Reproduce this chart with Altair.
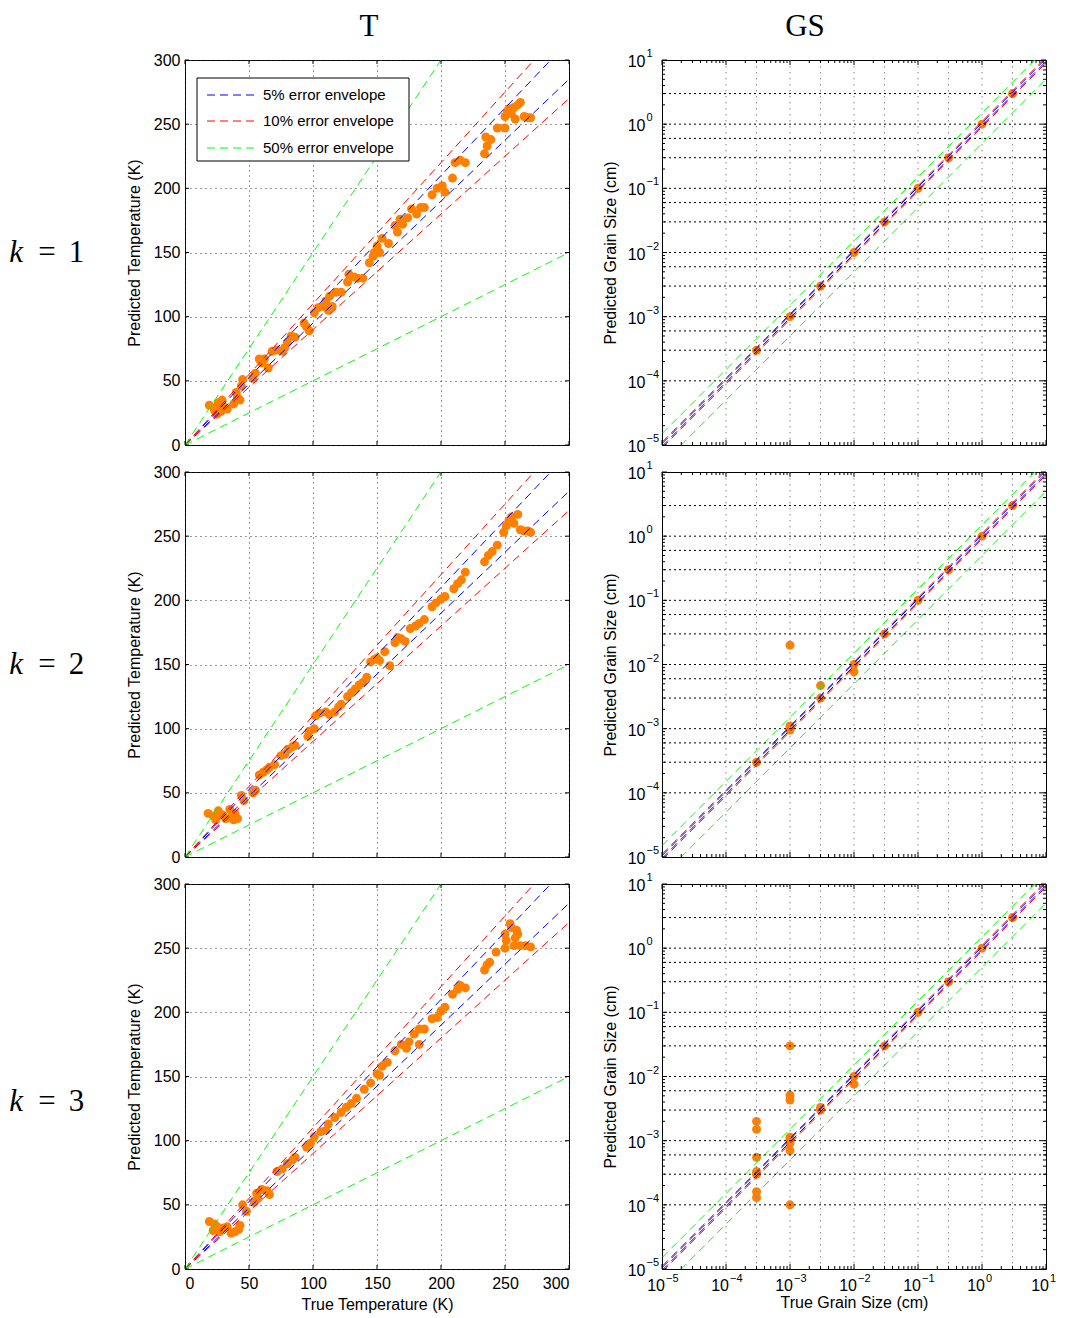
import altair as alt
import pandas as pd

# ---------------- data ----------------
# k = 1, temperature
t1_true = [19, 24, 26, 28, 25, 23, 30, 33, 29, 38, 40, 43, 41, 45, 44, 53, 55, 58, 60, 65,
           62, 68, 72, 76, 78, 80, 83, 86, 93, 97, 95, 101, 104, 108, 110, 113, 115, 112, 118, 122,
           127, 128, 132, 135, 139, 144, 148, 150, 147, 152, 154, 159, 164, 166, 168, 170, 174, 177, 181, 184,
           187, 193, 197, 201, 203, 209, 211, 215, 219, 234, 236, 235, 239, 244, 250, 250, 253, 255, 257, 260,
           262, 265, 268, 270, 258, 252]
t1_pred = [31, 29, 33, 26, 24, 27, 30, 28, 35, 32, 41, 35, 37, 51, 46, 52, 56, 67, 64, 60,
           67, 73, 74, 73, 76, 80, 85, 84, 95, 89, 92, 103, 107, 108, 112, 116, 108, 105, 119, 119,
           127, 133, 131, 130, 130, 142, 150, 155, 147, 150, 161, 157, 171, 166, 176, 172, 177, 184, 180, 185,
           185, 195, 200, 202, 197, 208, 220, 222, 220, 227, 233, 240, 238, 247, 247, 256, 262, 258, 263, 265,
           267, 256, 255, 255, 254, 260]

# k = 2, temperature
t2_true = [18, 22, 24, 26, 29, 32, 35, 37, 39, 41, 38, 44, 46, 53, 55, 58, 61, 64, 66, 70,
           75, 78, 81, 84, 86, 96, 97, 101, 102, 105, 110, 113, 117, 120, 122, 127, 130, 133, 136, 139,
           142, 145, 148, 150, 152, 156, 160, 164, 166, 169, 172, 176, 180, 183, 187, 193, 196, 200, 203, 210,
           213, 216, 219, 234, 237, 240, 244, 249, 251, 253, 255, 257, 260, 262, 265, 268, 270]
t2_pred = [34, 32, 29, 36, 33, 30, 37, 32, 34, 30, 29, 48, 44, 50, 52, 64, 66, 68, 70, 72,
           79, 80, 84, 86, 87, 94, 98, 100, 110, 112, 113, 111, 113, 117, 119, 125, 128, 131, 134, 136,
           140, 152, 154, 155, 153, 160, 149, 167, 171, 170, 168, 178, 180, 182, 185, 195, 198, 201, 203, 209,
           213, 216, 222, 230, 235, 238, 243, 253, 258, 262, 265, 260, 267, 255, 254, 254, 253]

# k = 3, temperature
t3_true = [19, 23, 25, 22, 27, 30, 33, 36, 39, 42, 43, 45, 48, 54, 57, 56, 60, 64, 66, 72,
           76, 80, 84, 86, 95, 98, 101, 106, 110, 112, 117, 122, 126, 130, 134, 140, 145, 150, 152, 154,
           158, 164, 169, 173, 175, 183, 179, 183, 187, 193, 197, 200, 203, 209, 213, 219, 215, 234, 236, 238,
           243, 250, 251, 250, 254, 255, 259, 260, 258, 257, 262, 266, 270]
t3_pred = [37, 35, 33, 30, 29, 32, 33, 28, 29, 31, 34, 50, 45, 52, 55, 59, 62, 61, 58, 76,
           78, 82, 85, 87, 95, 98, 103, 107, 108, 113, 118, 122, 126, 129, 133, 140, 145, 152, 151, 158,
           161, 170, 175, 172, 177, 175, 183, 187, 187, 195, 196, 201, 204, 214, 218, 219, 221, 233, 237, 239,
           247, 250, 256, 261, 269, 266, 264, 261, 258, 252, 252, 252, 251]

# k = 1, grain size (cm)
g1_true = [3e-4, 1e-3, 3e-3, 1e-2, 3e-2, 1e-1, 3e-1, 1, 3]
g1_pred = [3e-4, 1e-3, 3e-3, 1e-2, 3e-2, 1e-1, 3e-1, 1, 3]

# k = 2, grain size (cm)
g2_true = [3e-4, 1e-3, 1e-3, 1e-3, 1e-3, 3e-3, 3e-3, 1e-2, 1e-2, 3e-2, 1e-1, 3e-1, 1, 3]
g2_pred = [3e-4, 1e-3, 1.1e-3, 0.95e-3, 2e-2, 3e-3, 4.7e-3, 1e-2, 7.7e-3, 3e-2, 1e-1, 3e-1, 1, 3]

# k = 3, grain size (cm)
g3_true = [3e-4, 3e-4, 3e-4, 3e-4, 3e-4, 3e-4, 3e-4,
           1e-3, 1e-3, 1e-3, 1e-3, 1e-3, 1e-3, 1e-3, 1e-3,
           3e-3, 3e-3, 1e-2, 1e-2, 3e-2, 1e-1, 3e-1, 1, 3]
g3_pred = [2e-3, 1.5e-3, 5.5e-4, 3e-4, 3.3e-4, 1.6e-4, 1.3e-4,
           3e-2, 5.1e-3, 4.3e-3, 1.13e-3, 1.04e-3, 9.2e-4, 7e-4, 1e-4,
           3.3e-3, 3e-3, 1e-2, 7.6e-3, 3e-2, 1e-1, 3e-1, 1, 3]

# envelopes
env_pcts = [5, 10, 50]
env_colors = ["#0000ff", "#ff0000", "#00ff00"]
env_labels = ["5% error envelope", "10% error envelope", "50% error envelope"]

# axes
T_ticks = [0, 50, 100, 150, 200, 250, 300]
GS_decades = [1e-5, 1e-4, 1e-3, 1e-2, 1e-1, 1, 10]
GS_exps = ["\u22125", "\u22124", "\u22123", "\u22122", "\u22121", "0", "1"]
GS_minor = [m * 10.0 ** k for k in range(-5, 1) for m in range(2, 10)]
GS_hgrid = [1e-4, 3e-4, 6e-4, 1e-3, 3e-3, 6e-3, 1e-2, 3e-2, 6e-2, 1e-1, 3e-1, 6e-1, 1, 3]
GS_vgrid = [1e-4, 3e-4, 1e-3, 3e-3, 1e-2, 3e-2, 1e-1, 3e-1, 1, 3]

col_titles = ["T", "GS"]
row_labels = ["1", "2", "3"]

# ---------------- style ----------------
W, H = 384, 385
ORANGE = "#ff8000"
FONT = "Liberation Sans"
SERIF = "Liberation Serif"
DASH = [8, 5]
PT = 80

one = pd.DataFrame({"a": [0]})


def seg_df(f, lo, hi):
    return pd.DataFrame({"x": [lo, hi], "y": [lo * f, hi * f]})


def tick_layers(X, Y, xvals, yvals, length):
    dx = pd.DataFrame({"v": xvals})
    dy = pd.DataFrame({"v": yvals})
    L = []
    L.append(alt.Chart(dx).mark_rule(color="black", strokeWidth=1).encode(
        x=X("v:Q"), y=alt.value(H), y2=alt.value(H - length)))
    L.append(alt.Chart(dx).mark_rule(color="black", strokeWidth=1).encode(
        x=X("v:Q"), y=alt.value(0), y2=alt.value(length)))
    L.append(alt.Chart(dy).mark_rule(color="black", strokeWidth=1).encode(
        y=Y("v:Q"), x=alt.value(0), x2=alt.value(length)))
    L.append(alt.Chart(dy).mark_rule(color="black", strokeWidth=1).encode(
        y=Y("v:Q"), x=alt.value(W), x2=alt.value(W - length)))
    return L


def row_label_layers(i):
    yv = [193, 193, 218][i]
    L = []
    L.append(alt.Chart(one).mark_text(font=SERIF, fontSize=31, fontStyle="italic",
                                      align="center", baseline="middle").encode(
        x=alt.value(-169), y=alt.value(yv), text=alt.value("k")))
    L.append(alt.Chart(one).mark_text(font=SERIF, fontSize=31, align="center",
                                      baseline="middle").encode(
        x=alt.value(-138), y=alt.value(yv), text=alt.value("=")))
    L.append(alt.Chart(one).mark_text(font=SERIF, fontSize=31, align="center",
                                      baseline="middle").encode(
        x=alt.value(-108.5), y=alt.value(yv), text=alt.value(row_labels[i])))
    return L


def col_title_layer(j, xpos):
    return alt.Chart(one).mark_text(font=SERIF, fontSize=31, align="center",
                                    baseline="top").encode(
        x=alt.value(xpos), y=alt.value(-48), text=alt.value(col_titles[j]))


def env_layers(X, Y, lo, hi):
    L = []
    for pct, c in zip(env_pcts, env_colors):
        for f in (1 + pct / 100.0, 1 - pct / 100.0):
            L.append(alt.Chart(seg_df(f, lo, hi)).mark_line(
                color=c, strokeWidth=1, strokeDash=DASH, clip=True).encode(
                x=X("x:Q"), y=Y("y:Q")))
    return L


def t_panel(tx, ty, i):
    bottom = i == 2
    xs = alt.Scale(domain=[0, 300], nice=False, zero=False)
    ys = alt.Scale(domain=[0, 300], nice=False, zero=False)
    grid = dict(grid=True, gridDash=[1, 4], gridColor="#333333", gridOpacity=1, gridWidth=1,
                ticks=False, domain=False, values=T_ticks)
    xax = alt.Axis(labels=bottom, labelPadding=6, titlePadding=5, **grid)
    yax = alt.Axis(labelPadding=5, titlePadding=11, **grid)
    xt = "True Temperature (K)" if bottom else None
    yt = "Predicted Temperature (K)"

    def X(f):
        return alt.X(f, scale=xs, axis=xax, title=xt)

    def Y(f):
        return alt.Y(f, scale=ys, axis=yax, title=yt)

    df = pd.DataFrame({"t": tx, "p": ty})
    layers = [alt.Chart(df).mark_circle(size=PT, color=ORANGE, opacity=1).encode(
        x=X("t:Q"), y=Y("p:Q"))]
    layers += env_layers(X, Y, 0, 300)
    layers += tick_layers(X, Y, T_ticks, T_ticks, 4)
    if i == 0:
        layers.append(alt.Chart(one).mark_rect(fill="white", stroke="black", strokeWidth=1).encode(
            x=alt.value(12), x2=alt.value(224), y=alt.value(18), y2=alt.value(101)))
        for j, (lab, c) in enumerate(zip(env_labels, env_colors)):
            yy = [35, 61, 88][j]
            layers.append(alt.Chart(one).mark_rule(color=c, strokeWidth=1, strokeDash=DASH).encode(
                x=alt.value(22), x2=alt.value(72), y=alt.value(yy)))
            layers.append(alt.Chart(one).mark_text(font=FONT, fontSize=15, align="left",
                                                   baseline="middle").encode(
                x=alt.value(78), y=alt.value(yy), text=alt.value(lab)))
        layers.append(col_title_layer(0, 184))
    layers += row_label_layers(i)
    return alt.layer(*layers).properties(width=W, height=H)


def gs_panel(gx, gy, i):
    bottom = i == 2
    xs = alt.Scale(type="log", domain=[1e-5, 10], nice=False)
    ys = alt.Scale(type="log", domain=[1e-5, 10], nice=False)
    off = dict(labels=False, ticks=False, domain=False, grid=False)
    xax = alt.Axis(titlePadding=25, **off)
    yax = alt.Axis(titlePadding=44, **off)
    xt = "True Grain Size (cm)" if bottom else None
    yt = "Predicted Grain Size (cm)"

    def X(f):
        return alt.X(f, scale=xs, axis=xax, title=xt)

    def Y(f):
        return alt.Y(f, scale=ys, axis=yax, title=yt)

    df = pd.DataFrame({"t": gx, "p": gy})
    layers = []
    layers.append(alt.Chart(df).mark_circle(size=PT, color=ORANGE, opacity=1).encode(
        x=X("t:Q"), y=Y("p:Q")))
    layers.append(alt.Chart(pd.DataFrame({"v": GS_vgrid})).mark_rule(
        color="#8a8a8a", strokeWidth=1, strokeDash=[1.5, 4.5]).encode(x=X("v:Q")))
    layers += env_layers(X, Y, 1e-6, 1e2)
    layers.append(alt.Chart(pd.DataFrame({"v": GS_hgrid})).mark_rule(
        color="#000000", strokeWidth=1, strokeDash=[2, 3]).encode(y=Y("v:Q")))
    layers += tick_layers(X, Y, GS_decades, GS_decades, 5)
    layers += tick_layers(X, Y, GS_minor, GS_minor, 3)
    # y tick labels 10^e
    lab = pd.DataFrame({"v": GS_decades, "e": GS_exps})
    layers.append(alt.Chart(lab).mark_text(font=FONT, fontSize=16, align="right",
                                           baseline="middle", dy=2).encode(
        y=Y("v:Q"), x=alt.value(-16.5), text=alt.value("10")))
    layers.append(alt.Chart(lab).mark_text(font=FONT, fontSize=11, align="left",
                                           baseline="middle", dy=-6).encode(
        y=Y("v:Q"), x=alt.value(-15.5), text="e:N"))
    if bottom:
        layers.append(alt.Chart(lab).mark_text(font=FONT, fontSize=16, align="right",
                                               baseline="middle", dx=3).encode(
            x=X("v:Q"), y=alt.value(H + 17), text=alt.value("10")))
        layers.append(alt.Chart(lab).mark_text(font=FONT, fontSize=11, align="left",
                                               baseline="middle", dx=4).encode(
            x=X("v:Q"), y=alt.value(H + 10), text="e:N"))
    if i == 0:
        layers.append(col_title_layer(1, 143))
    return alt.layer(*layers).properties(width=W, height=H)


panels = []
for i, (tx, ty, gx, gy) in enumerate([(t1_true, t1_pred, g1_true, g1_pred),
                                       (t2_true, t2_pred, g2_true, g2_pred),
                                       (t3_true, t3_pred, g3_true, g3_pred)]):
    panels.append(t_panel(tx, ty, i))
    panels.append(gs_panel(gx, gy, i))

chart = alt.concat(*panels, columns=2, spacing={"row": 27, "column": 93}, bounds="flush").resolve_scale(
    x="independent", y="independent"
).properties(
    padding={"left": 0, "top": 2, "right": 0, "bottom": 0}, background="white"
).configure_view(
    stroke="black", strokeWidth=1
).configure_axis(
    labelFont=FONT, titleFont=FONT, labelFontSize=16, titleFontSize=16,
    labelColor="black", titleColor="black", titleFontWeight="normal"
)

chart.save("out.html", embed_options={"renderer": "svg", "actions": False})
